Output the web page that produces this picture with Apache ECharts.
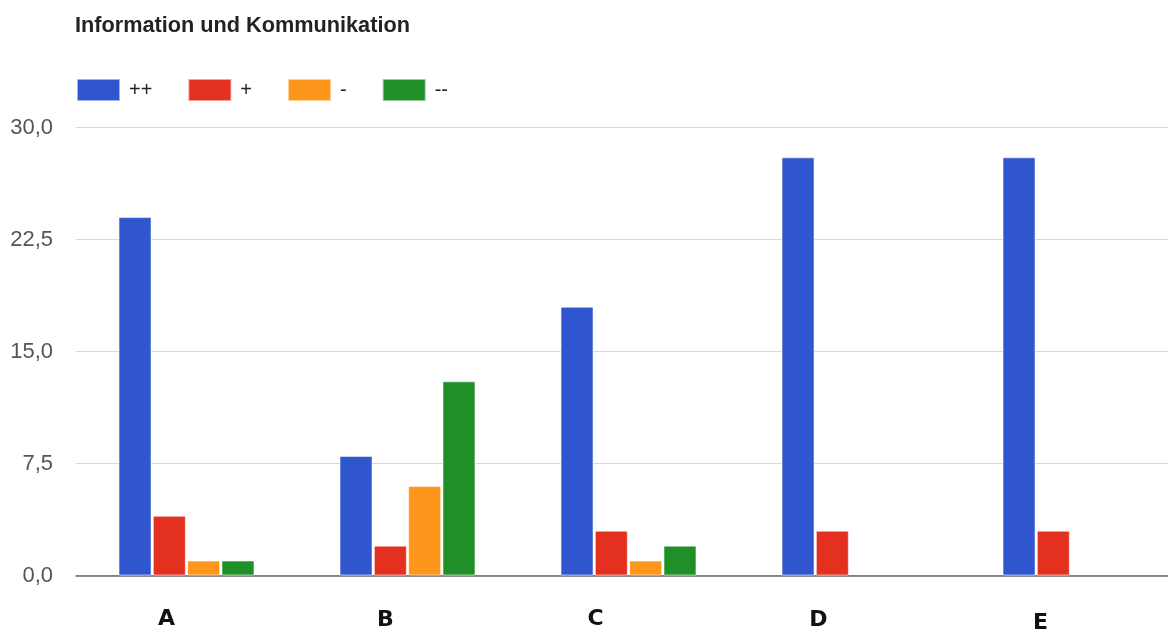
<!DOCTYPE html>
<html>
<head>
<meta charset="utf-8">
<script src="https://cdn.jsdelivr.net/npm/echarts@6/dist/echarts.min.js"></script>
<style>
  html, body { margin: 0; padding: 0; background: #ffffff; }
  #chart { width: 1168px; height: 632px; }
</style>
</head>
<body>
<div id="chart"></div>
<script>
// Survey answers per group
const categories = ['A', 'B', 'C', 'D', 'E'];
const seriesNames = ['++', '+', '-', '--'];
const valuesPlusPlus = [24, 8, 18, 28, 28];
const valuesPlus = [4, 2, 3, 3, 3];
const valuesMinus = [1, 6, 1, 0, 0];
const valuesMinusMinus = [1, 13, 2, 0, 0];
const yTicks = [0, 7.5, 15, 22.5, 30];

const seriesValues = [valuesPlusPlus, valuesPlus, valuesMinus, valuesMinusMinus];
const colors = ['#2f56cf', '#e4311f', '#fe961b', '#218f28'];

// horizontal nudges of the category captions (px, negative = left), and vertical drops
const captionShift = [-20, -22, -33, -31, -30];
const captionDrop = [0, 1, 0, 1, 4];

const rich = {};
captionShift.forEach((s, i) => {
  rich['c' + i] = {
    fontFamily: 'DejaVu Sans',
    fontWeight: 'bold',
    fontSize: 22,
    color: '#111111',
    padding: [captionDrop[i], s < 0 ? -2 * s : 0, 0, s > 0 ? 2 * s : 0]
  };
});

const chart = echarts.init(document.getElementById('chart'), null, { renderer: 'canvas' });

chart.setOption({
  animation: false,
  color: colors,
  title: {
    text: 'Information und Kommunikation',
    left: 75,
    top: 15,
    padding: 0,
    textStyle: {
      fontFamily: 'Liberation Sans',
      fontWeight: 'bold',
      fontSize: 21.7,
      color: '#222222'
    }
  },
  legend: {
    left: 76,
    top: 78,
    padding: 0,
    icon: 'rect',
    itemWidth: 43,
    itemHeight: 22,
    itemGap: 35,
    data: seriesNames,
    textStyle: {
      fontFamily: 'Liberation Sans',
      fontSize: 20,
      color: '#222222',
      padding: [0, 0, 0, 4]
    }
  },
  grid: {
    left: 76,
    top: 127.5,
    width: 1105,
    height: 448,
    containLabel: false,
    outerBoundsMode: 'none'
  },
  xAxis: {
    type: 'category',
    data: categories,
    axisTick: { show: false },
    axisLine: { lineStyle: { color: '#666666', width: 1.5 } },
    axisLabel: {
      margin: 33,
      formatter: (v, i) => '{c' + i + '|' + v + '}',
      rich: rich
    }
  },
  yAxis: {
    type: 'value',
    min: yTicks[0],
    max: yTicks[yTicks.length - 1],
    interval: yTicks[1] - yTicks[0],
    axisLine: { show: false },
    axisTick: { show: false },
    splitLine: { lineStyle: { color: '#d9d9d9', width: 1.2 } },
    axisLabel: {
      margin: 23,
      fontFamily: 'Liberation Sans',
      fontSize: 22,
      color: '#555555',
      formatter: v => v.toFixed(1).replace('.', ',')
    }
  },
  series: seriesNames.map((name, i) => ({
    name: name,
    type: 'bar',
    // zero-height bars get no outline so nothing is drawn over the baseline
    data: seriesValues[i].map(v => (v === 0 ? { value: v, itemStyle: { borderWidth: 0 } } : v)),
    barWidth: 33,
    barGap: '4%',
    itemStyle: {
      color: colors[i],
      borderColor: 'rgba(255,255,255,0.55)',
      borderWidth: 1
    }
  }))
});
</script>
</body>
</html>
